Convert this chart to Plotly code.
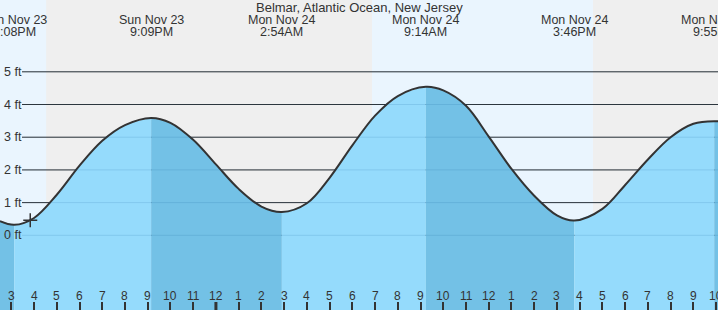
import pandas as pd
import plotly.graph_objects as go

# ---------------- data ----------------
TITLE = "Belmar, Atlantic Ocean, New Jersey"

extreme_times = ["2025-11-23 15:08", "2025-11-23 21:09", "2025-11-24 02:54",
                 "2025-11-24 09:14", "2025-11-24 15:46", "2025-11-24 21:55"]
extreme_heights = [0.32, 3.59, 0.71, 4.54, 0.45, 3.49]
extreme_days = ["Sun Nov 23", "Sun Nov 23", "Mon Nov 24", "Mon Nov 24", "Mon Nov 24", "Mon Nov 24"]
extreme_clock = ["3:08PM", "9:09PM", "2:54AM", "9:14AM", "3:46PM", "9:55PM"]

# tide height read at each hour (15:00 Sun .. 22:00 Mon), plus the two chart edges
hourly_heights = [0.33, 0.53, 1.24, 2.13, 2.89, 3.37, 3.59, 3.44, 2.92, 2.17, 1.42, 0.88,
                  0.71, 0.98, 1.76, 2.75, 3.66, 4.26, 4.53, 4.43, 3.96, 3.02, 2.03, 1.21,
                  0.61, 0.46, 0.81, 1.54, 2.32, 3.00, 3.41, 3.49]
hourly_start = "2025-11-23 15:00"
edge_times = ["2025-11-23 14:30", "2025-11-24 22:30"]
edge_heights = [0.43, 3.45]

daylight_start = ["2025-11-23 06:48", "2025-11-24 06:52"]
daylight_end = ["2025-11-23 16:32", "2025-11-24 16:35"]

now_time = "2025-11-23 15:50"
now_height = 0.46

grid_levels = [0, 1, 2, 3, 4, 5]
grid_labels = ["0 ft", "1 ft", "2 ft", "3 ft", "4 ft", "5 ft"]

tick_start = "2025-11-23 15:00"
tick_end = "2025-11-24 22:00"
midnight = "2025-11-24 00:00"

# ---------------- styling ----------------
X_RANGE = ["2025-11-23 14:30:10", "2025-11-24 22:05"]
Y_RANGE = [-2.284, 7.196]
NIGHT = "#efefef"
DAY = "#eaf5fe"
RISE = "#95dbfc"
FALL = "#73c1e6"
INK = "#333333"
FONT = "Liberation Sans, Arial, sans-serif"

# ---------------- build curve ----------------
hourly_times = pd.date_range(hourly_start, periods=len(hourly_heights), freq="h")
pts = pd.DataFrame({
    "t": list(pd.to_datetime(edge_times[:1])) + list(hourly_times) + list(pd.to_datetime(edge_times[1:])),
    "h": edge_heights[:1] + hourly_heights + edge_heights[1:],
    "ext": False,
})
ext = pd.DataFrame({"t": pd.to_datetime(extreme_times), "h": extreme_heights, "ext": True})
# hourly readings that sit right next to a turning point add nothing but kinks
near = pts["t"].apply(lambda t: (abs(ext["t"] - t) < pd.Timedelta(minutes=20)).any())
pts = pts[~near]
allp = pd.concat([pts, ext]).sort_values("t").reset_index(drop=True)

fig = go.Figure()

idx = [0] + list(allp.index[allp["ext"]]) + [len(allp) - 1]
for a, b in zip(idx[:-1], idx[1:]):
    seg = allp.iloc[a:b + 1]
    rising = seg["h"].iloc[-1] > seg["h"].iloc[0]
    fig.add_trace(go.Scatter(x=[seg["t"].iloc[0], seg["t"].iloc[-1]], y=[Y_RANGE[0] - 0.1] * 2,
                             mode="lines", line=dict(width=0), hoverinfo="skip", showlegend=False))
    fig.add_trace(go.Scatter(x=seg["t"], y=seg["h"], mode="lines", line=dict(width=0, shape="spline"),
                             fill="tonexty", fillcolor=RISE if rising else FALL,
                             hoverinfo="skip", showlegend=False))

fig.add_trace(go.Scatter(x=allp["t"], y=allp["h"], mode="lines",
                         line=dict(color=INK, width=2, shape="spline"),
                         hoverinfo="skip", showlegend=False))

fig.add_trace(go.Scatter(x=[now_time], y=[now_height], mode="markers",
                         marker=dict(symbol="cross-thin", size=10, line=dict(color=INK, width=1.5)),
                         hoverinfo="skip", showlegend=False))

shapes = []
for s, e in zip(daylight_start, daylight_end):
    shapes.append(dict(type="rect", xref="x", yref="paper", x0=s, x1=e, y0=0, y1=1,
                       fillcolor=DAY, line=dict(width=0), layer="below"))
for lv in grid_levels:
    shapes.append(dict(type="line", xref="paper", yref="y", x0=22 / 718, x1=1, y0=lv, y1=lv,
                       line=dict(color=INK, width=1), layer="below"))
    shapes.append(dict(type="line", xref="paper", yref="y", x0=22 / 718, x1=1, y0=lv, y1=lv,
                       line=dict(color="rgba(0,80,140,0.13)", width=1), layer="above"))
shapes.append(dict(type="line", xref="x", yref="paper", x0=midnight, x1=midnight, y0=0, y1=8 / 310,
                   line=dict(color=INK, width=3), layer="above"))

ann = [dict(text=TITLE, xref="paper", yref="paper", x=0.5, y=1 - 8 / 310, showarrow=False,
            xanchor="center", yanchor="middle", font=dict(size=13, color=INK, family=FONT))]
for t, d, c in zip(extreme_times, extreme_days, extreme_clock):
    ann.append(dict(text=d, xref="x", yref="paper", x=t, y=1 - 20 / 310, showarrow=False,
                    xanchor="center", yanchor="middle", font=dict(size=12.5, color=INK, family=FONT)))
    ann.append(dict(text=c, xref="x", yref="paper", x=t, y=1 - 32 / 310, showarrow=False,
                    xanchor="center", yanchor="middle", font=dict(size=12.5, color=INK, family=FONT)))
for lv, lab in zip(grid_levels, grid_labels):
    ann.append(dict(text=lab, xref="paper", yref="y", x=2 / 718, y=lv, showarrow=False,
                    xanchor="left", yanchor="middle", font=dict(size=12.5, color=INK, family=FONT)))

tickvals = pd.date_range(tick_start, tick_end, freq="h")
ticktext = [str(int(v.strftime("%I"))) for v in tickvals]
for v, txt in zip(tickvals, ticktext):
    ann.append(dict(text=txt, xref="x", yref="paper", x=v, y=1 - 295.5 / 310, showarrow=False,
                    xanchor="center", yanchor="middle", font=dict(size=12, color=INK, family=FONT)))

fig.update_layout(
    width=718, height=310, margin=dict(l=0, r=0, t=0, b=0),
    paper_bgcolor=NIGHT, plot_bgcolor=NIGHT,
    shapes=shapes, annotations=ann, showlegend=False,
    xaxis=dict(type="date", range=X_RANGE, showgrid=False, zeroline=False, showline=False,
               tickvals=list(tickvals), ticks="inside", ticklen=8, showticklabels=False,
               tickwidth=1.5, tickcolor=INK, fixedrange=True),
    yaxis=dict(range=Y_RANGE, visible=False, fixedrange=True),
)

fig.write_html("out.html", config={"displayModeBar": False})
